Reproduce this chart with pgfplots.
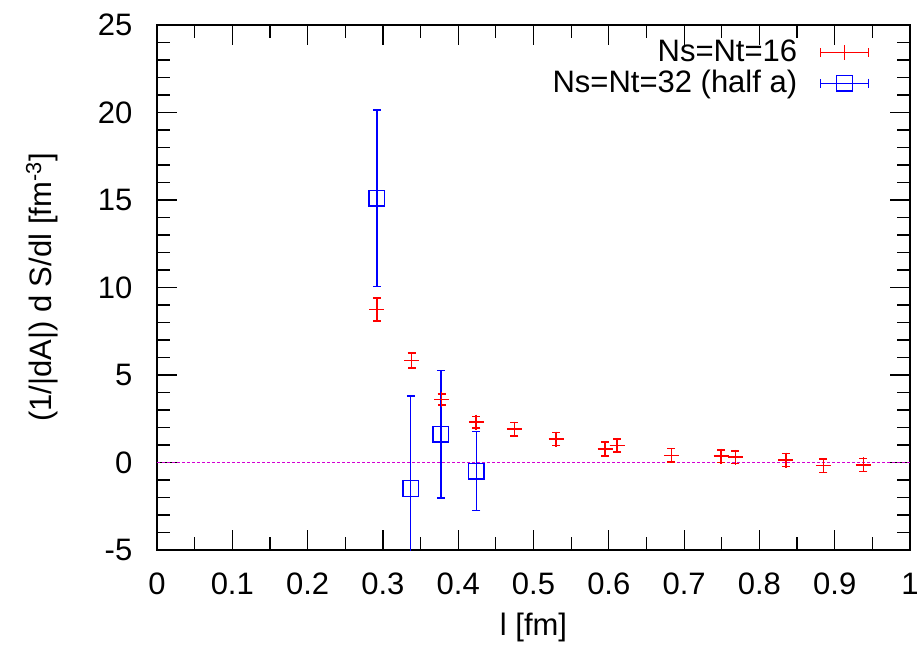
\documentclass[border=0pt]{standalone}
\usepackage{fontspec}
\setmainfont{Liberation Sans}
\usepackage{pgfplots}
\pgfplotsset{compat=1.18}
\usepackage{pgfplotstable}
\usetikzlibrary{arrows.meta}

\definecolor{zeroline}{RGB}{210,0,210}

% Ns=Nt=16
\pgfplotstableread{
x      y      err
0.292  8.75   0.65
0.338  5.82   0.42
0.378  3.61   0.31
0.424  2.30   0.33
0.4745 1.91   0.38
0.530  1.34   0.38
0.595  0.77   0.39
0.611  0.98   0.38
0.683  0.41   0.38
0.749  0.37   0.36
0.768  0.30   0.35
0.835  0.14   0.38
0.885  -0.18  0.38
0.938  -0.14  0.38
}\smalllat

% Ns=Nt=32 (half a)
\pgfplotstableread{
x      y      err
0.292  15.10  5.05
0.337  -1.48  5.28
0.377  1.61   3.65
0.424  -0.49  2.25
}\biglat

\begin{document}
\fontsize{15.5}{18}\selectfont
\begin{tikzpicture}
\useasboundingbox (-78.5pt,-51pt) rectangle (383.5pt,275pt);
\begin{axis}[
    scale only axis,
    width=376.5pt, height=262.5pt,
    xmin=0, xmax=1, ymin=-5, ymax=25,
    xtick={0,0.1,...,1.01},
    ytick={-5,0,...,25},
    minor x tick num=1,
    minor y tick num=4,
    tick align=inside,
    major tick length=10pt,
    minor tick length=6.5pt,
    tick style={black, line width=0.6pt},
    axis line style={line width=0.7pt},
    /pgf/number format/assume math mode=true,
    xticklabel style={yshift=-6pt},
    yticklabel style={xshift=-7pt},
    xlabel={l [fm]},
    ylabel={(1/\textbar dA\textbar) d S/dl [fm\textsuperscript{-3}]},
    xlabel style={at={(axis description cs:0.5,-0.1467)}, anchor=center},
    ylabel style={at={(axis description cs:-0.1527,0.5)}, anchor=center},
    legend cell align=right,
    legend plot pos=right,
    legend style={draw=none, fill=none, at={(1,1)}, anchor=north east,
        xshift=-17pt, yshift=-3pt, row sep=-2pt, column sep=9pt,
        nodes={inner sep=2pt}},
]
\addplot[zeroline, line width=0.6pt, dash pattern=on 1.5pt off 1pt, forget plot]
    coordinates {(0,0) (1,0)};

\addplot[red, only marks, mark=+, mark size=3.75pt, line width=0.8pt,
    error bars/.cd, y dir=both, y explicit,
    error mark options={red, rotate=90, mark size=2pt, line width=0.8pt},
    error bar style={red, line width=0.8pt},
    /pgfplots/.cd,
    legend image code/.code={
        \draw[red, line width=0.7pt, {Bar[width=4.5pt]}-{Bar[width=4.5pt]}] (0pt,0pt) -- (24.5pt,0pt);
        \draw[red, line width=0.7pt] plot[mark=+, mark size=3.75pt, only marks] coordinates {(12.25pt,0pt)};
    }]
    table[x=x, y=y, y error=err] {\smalllat};
\addlegendentry{Ns=Nt=16}

\addplot[blue, only marks, mark=square, mark size=3.9pt, line width=0.7pt,
    error bars/.cd, y dir=both, y explicit,
    error mark options={blue, rotate=90, mark size=2pt, line width=0.7pt},
    error bar style={blue, line width=0.7pt},
    /pgfplots/.cd,
    legend image code/.code={
        \draw[blue, line width=0.7pt, {Bar[width=4.5pt]}-{Bar[width=4.5pt]}] (0pt,0pt) -- (24.5pt,0pt);
        \draw[blue, line width=0.7pt, fill=white] plot[mark=square, mark size=3.9pt, only marks] coordinates {(12.25pt,0pt)};
    }]
    table[x=x, y=y, y error=err] {\biglat};
\addlegendentry{Ns=Nt=32 (half a)}
\end{axis}
\end{tikzpicture}
\end{document}
